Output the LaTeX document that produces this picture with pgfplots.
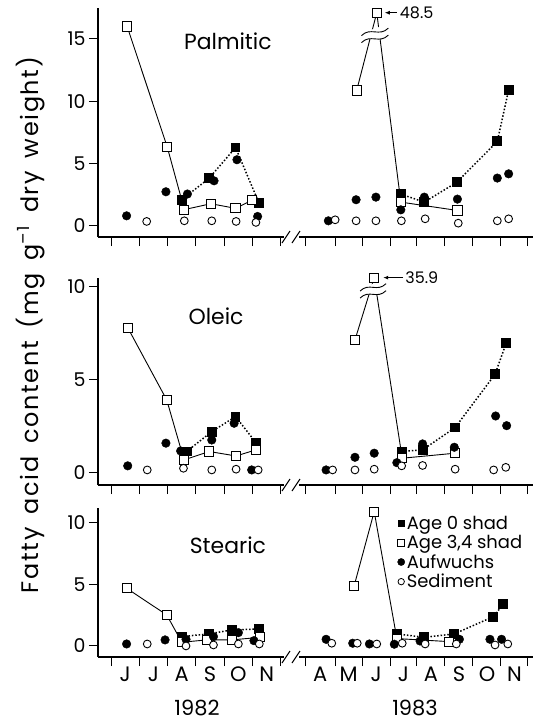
\documentclass[border=0pt]{standalone}
\usepackage{fontspec}
\setmainfont{Poppins}
\newfontfamily\ylabfont[LetterSpace=7, WordSpace=1.6]{Poppins}
\usepackage{pgfplots}
\pgfplotsset{compat=1.18}
\usetikzlibrary{arrows.meta}
\tikzset{ptitle/.style={font=\fontsize{22}{22}\selectfont},
  mon/.style={font=\fontsize{21}{21}\selectfont, yshift=-17bp}}
\pgfplotsset{
  panel/.style={
    x=28.3bp, xmin=-0.46, xmax=14.9,
    axis lines*=left,
    axis line style={line width=1.1pt},
    tick align=outside,
    major tick length=9bp,
    tick style={line width=1pt, black},
    xtick={0,1,2,3,4,5,6,6.86,7.92,8.87,9.86,10.81,11.80,12.79,13.78,14.73},
    xticklabels={},
    ytick={0,5,10,15},
    ticklabel style={font=\fontsize{19}{19}\selectfont},
    /pgf/number format/assume math mode=true,
    clip=false,
    anchor=south west,
  },
  a34/.style={black, solid, line width=0.9pt, mark=square*, mark size=4.6bp, mark options={solid, fill=white, line width=0.9pt}},
  a0/.style={black, line width=1.5pt, dash pattern=on 1.5pt off 1.9pt, mark=square*, mark size=4.2bp, mark options={solid, fill=black}},
  auf/.style={black, only marks, mark=*, mark size=4.3bp, mark options={fill=black}},
  sed/.style={black, only marks, mark=*, mark size=3.9bp, mark options={fill=white, line width=0.9pt}},
}
\begin{document}
\begin{tikzpicture}
\useasboundingbox (0,0) rectangle (540bp,-725bp);
% ---------------- Palmitic
\begin{axis}[panel, at={(98bp,-237bp)}, y=12.46bp, ymin=-0.9, ymax=17.5]
\addplot[a0] coordinates {(2.5,2.1)(3.46,3.8)(4.4,6.28)(5.23,1.82)};
\addplot[a0] coordinates {(10.24,2.54)(11.07,1.9)(12.21,3.48)(13.65,6.77)(14.05,10.9)};
\addplot[a34] coordinates {(0.57,16)(1.99,6.3)(2.59,1.3)(3.53,1.77)(4.4,1.4)(4.98,2.05)};
\addplot[a34] coordinates {(8.68,10.86)(9.39,17.1)(10.24,1.9)(12.24,1.23)};
\addplot[auf] coordinates {(0.55,0.8)(1.94,2.73)(2.7,2.55)(3.64,3.61)(4.45,5.3)(5.18,0.75)};
\addplot[auf] coordinates {(7.68,0.4)(8.66,2.09)(9.36,2.3)(10.24,1.28)(11.07,2.3)(12.24,2.14)(13.65,3.83)(14.05,4.17)};
\addplot[sed] coordinates {(1.26,0.35)(2.59,0.4)(3.56,0.4)(4.42,0.35)(5.12,0.27)};
\addplot[sed] coordinates {(7.92,0.48)(8.66,0.4)(9.36,0.4)(10.26,0.4)(11.1,0.56)(12.27,0.21)(13.65,0.4)(14.05,0.56)};
% break squiggle
\fill[white] (axis cs:8.85,14.7) .. controls +(9bp,9bp) and +(-9bp,-9bp) .. (axis cs:9.8,15.3) -- ++(0,7bp) .. controls +(-9bp,-9bp) and +(9bp,9bp) .. ([yshift=7bp]axis cs:8.85,14.7) -- cycle;
\draw[line width=0.9pt] (axis cs:8.85,14.7) .. controls +(9bp,9bp) and +(-9bp,-9bp) .. (axis cs:9.8,15.3);
\draw[line width=0.9pt] ([yshift=7bp]axis cs:8.85,14.7) .. controls +(9bp,9bp) and +(-9bp,-9bp) .. ([yshift=7bp]axis cs:9.8,15.3);
\draw[-{Latex[length=5bp,width=4bp]}, line width=0.9pt] ([xshift=20bp]axis cs:9.39,17.1) -- ([xshift=8bp]axis cs:9.39,17.1);
\node[anchor=west, inner sep=0pt, font=\fontsize{16}{16}\selectfont] at ([xshift=23bp]axis cs:9.39,17.1) {48.5};
\node[ptitle] at (axis cs:4.13,14.77) {Palmitic};
\end{axis}
\fill[white] (284bp,-240bp) rectangle (299bp,-234bp);
\draw[line width=1pt] (282bp,-243bp) -- (290bp,-231bp) (292bp,-243bp) -- (300bp,-231bp);
% ---------------- Oleic
\begin{axis}[panel, at={(98bp,-485bp)}, y=18.6bp, ymin=-0.65, ymax=10.5]
\addplot[a0] coordinates {(2.67,1.15)(3.56,2.22)(4.4,3.03)(5.12,1.63)};
\addplot[a0] coordinates {(10.27,1.15)(11.01,1.24)(12.16,2.44)(13.57,5.3)(13.96,6.97)};
\addplot[a34] coordinates {(0.59,7.81)(1.97,3.92)(2.58,0.7)(3.47,1.15)(4.42,0.91)(5.12,1.24)};
\addplot[a34] coordinates {(8.62,7.15)(9.3,10.5)(10.29,0.79)(12.16,1.06)};
\addplot[auf] coordinates {(0.59,0.38)(1.94,1.6)(2.46,1.18)(3.56,1.77)(4.35,2.67)(4.97,0.16)};
\addplot[auf] coordinates {(7.6,0.16)(8.62,0.84)(9.3,1.06)(10.1,0.55)(11.01,1.56)(12.13,1.38)(13.59,3.06)(13.98,2.54)};
\addplot[sed] coordinates {(1.28,0.16)(2.56,0.25)(3.56,0.16)(4.42,0.2)(5.2,0.16)};
\addplot[sed] coordinates {(7.83,0.16)(8.62,0.16)(9.3,0.2)(10.27,0.38)(11.01,0.4)(12.16,0.2)(13.52,0.16)(13.95,0.3)};
\fill[white] (axis cs:8.8,9.4) .. controls +(9bp,9bp) and +(-9bp,-9bp) .. (axis cs:9.72,9.8) -- ++(0,7bp) .. controls +(-9bp,-9bp) and +(9bp,9bp) .. ([yshift=7bp]axis cs:8.8,9.4) -- cycle;
\draw[line width=0.9pt] (axis cs:8.8,9.4) .. controls +(9bp,9bp) and +(-9bp,-9bp) .. (axis cs:9.72,9.8);
\draw[line width=0.9pt] ([yshift=7bp]axis cs:8.8,9.4) .. controls +(9bp,9bp) and +(-9bp,-9bp) .. ([yshift=7bp]axis cs:9.72,9.8);
\draw[-{Latex[length=5bp,width=4bp]}, line width=0.9pt] ([xshift=29bp]axis cs:9.3,10.5) -- ([xshift=9bp]axis cs:9.3,10.5);
\node[anchor=west, inner sep=0pt, font=\fontsize{16}{16}\selectfont] at ([xshift=31bp]axis cs:9.3,10.5) {35.9};
\node[ptitle] at (axis cs:3.71,8.44) {Oleic};
\end{axis}
\fill[white] (284bp,-488bp) rectangle (299bp,-482bp);
\draw[line width=1pt] (282bp,-491bp) -- (290bp,-479bp) (292bp,-491bp) -- (300bp,-479bp);
% ---------------- Stearic
\begin{axis}[panel, at={(98bp,-657bp)}, y=12.3bp, ymin=-0.9, ymax=11.2,
  legend style={at={(axis cs:10.12,10.75)}, anchor=north west, draw=none, fill=none,
    font=\fontsize{18}{18}\selectfont, row sep=0.5bp, inner sep=0pt,
    /tikz/every even column/.append style={column sep=1bp}},
  legend cell align=left]
\addlegendimage{only marks, mark=square*, mark size=3.4bp, mark options={fill=black}}
\addlegendentry{Age 0 shad}
\addlegendimage{only marks, mark=square*, mark size=3.4bp, mark options={fill=white, line width=0.8pt}}
\addlegendentry{Age 3,4 shad}
\addlegendimage{only marks, mark=*, mark size=3.6bp, mark options={fill=black}}
\addlegendentry{Aufwuchs}
\addlegendimage{only marks, mark=*, mark size=3.2bp, mark options={fill=white, line width=0.8pt}}
\addlegendentry{Sediment}
\addplot[a0, forget plot] coordinates {(2.5,0.76)(3.46,0.98)(4.26,1.3)(5.24,1.38)};
\addplot[a0, forget plot] coordinates {(10.1,0.98)(11.07,0.7)(12.13,0.98)(13.51,2.38)(13.86,3.39)};
\addplot[a34, forget plot] coordinates {(0.55,4.69)(1.97,2.52)(2.5,0.3)(3.38,0.49)(4.26,0.49)(5.27,0.7)};
\addplot[a34, forget plot] coordinates {(8.59,4.88)(9.3,10.92)(10.1,0.6)(11.95,0.35)};
\addplot[auf, forget plot] coordinates {(0.55,0.16)(1.91,0.49)(2.65,0.54)(3.62,0.76)(4.5,1.08)(5.05,0.43)};
\addplot[auf, forget plot] coordinates {(7.6,0.54)(8.54,0.22)(9.13,0.16)(10.01,0.14)(10.92,0.4)(12.31,0.54)(13.39,0.54)(13.8,0.54)};
\addplot[sed, forget plot] coordinates {(1.28,0.16)(2.65,0.0)(3.62,0.08)(4.5,0.16)(5.24,0.16)};
\addplot[sed, forget plot] coordinates {(7.8,0.22)(8.7,0.22)(9.39,0.16)(10.29,0.22)(11.1,0.16)(12.2,0.16)(13.57,0.08)(14.02,0.16)};
\node[ptitle] at (axis cs:4.13,8.2) {Stearic};
\node[mon] at (axis cs:0.5,-0.9) {J};
\node[mon] at (axis cs:1.5,-0.9) {J};
\node[mon] at (axis cs:2.5,-0.9) {A};
\node[mon] at (axis cs:3.5,-0.9) {S};
\node[mon] at (axis cs:4.5,-0.9) {O};
\node[mon] at (axis cs:5.5,-0.9) {N};
\node[mon] at (axis cs:7.39,-0.9) {A};
\node[mon] at (axis cs:8.395,-0.9) {M};
\node[mon] at (axis cs:9.365,-0.9) {J};
\node[mon] at (axis cs:10.335,-0.9) {J};
\node[mon] at (axis cs:11.305,-0.9) {A};
\node[mon] at (axis cs:12.295,-0.9) {S};
\node[mon] at (axis cs:13.285,-0.9) {O};
\node[mon] at (axis cs:14.255,-0.9) {N};
\node[mon, yshift=-34bp] at (axis cs:3.04,-0.9) {1982};
\node[mon, yshift=-34bp] at (axis cs:10.74,-0.9) {1983};
\end{axis}
\fill[white] (284bp,-660bp) rectangle (299bp,-654bp);
\draw[line width=1pt] (282bp,-663bp) -- (290bp,-651bp) (292bp,-663bp) -- (300bp,-651bp);
% y label
\node[rotate=90, font=\ylabfont\fontsize{24}{24}\selectfont] at (31bp,-325bp) {Fatty acid content (mg g\textsuperscript{–1} dry weight)};
\end{tikzpicture}
\end{document}
